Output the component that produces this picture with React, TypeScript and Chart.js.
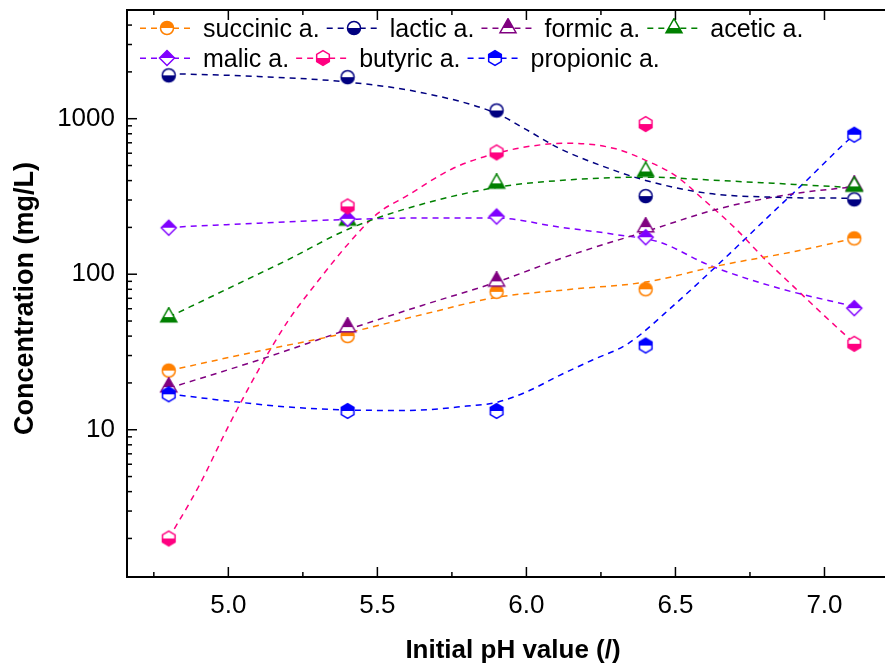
import React, { useEffect, useRef } from 'react';
import { Chart, registerables } from 'chart.js';

Chart.register(...registerables);

// ---- measured data ----
const pH = [4.8, 5.4, 5.9, 6.4, 7.1];
const acidNames = ['succinic a.', 'lactic a.', 'formic a.', 'acetic a.', 'malic a.', 'butyric a.', 'propionic a.'];
const succinic = [24, 40, 77, 80, 170];
const lactic = [1900, 1850, 1130, 318, 303];
const formic = [18.8, 45.7, 90, 201, 372];
const acetic = [53, 222, 384, 458, 367];
const malic = [199, 227, 235, 173, 60.5];
const butyric = [2.0, 273, 607, 924, 35.7];
const propionic = [16.9, 13.2, 13.2, 34.8, 789];

// ---- fitted curves ----
const fitSuccinicX = [4.8, 5.1, 5.4, 5.65, 5.9, 6.15, 6.4, 6.65, 6.9, 7.1];
const fitSuccinicY = [24, 32, 42, 55, 71, 80, 89, 114, 140, 170];
const fitLacticX = [4.8, 5.1, 5.4, 5.65, 5.9, 6.0, 6.11, 6.25, 6.4, 6.61, 6.85, 7.1];
const fitLacticY = [1950, 1870, 1720, 1470, 1080, 850, 645, 500, 401, 331, 312, 308];
const fitFormicX = [4.8, 5.1, 5.4, 5.65, 5.9, 6.15, 6.4, 6.65, 6.9, 7.1];
const fitFormicY = [18.5, 28, 44, 63, 89, 133, 188, 265, 330, 365];
const fitAceticX = [4.8, 5.0, 5.2, 5.4, 5.6, 5.9, 6.15, 6.4, 6.65, 6.9, 7.1];
const fitAceticY = [53, 81, 124, 194, 265, 362, 405, 421, 400, 378, 360];
const fitMalicX = [4.8, 5.1, 5.4, 5.65, 5.9, 6.11, 6.3, 6.45, 6.61, 6.85, 7.1];
const fitMalicY = [200, 213, 225, 230, 230, 201, 180, 160, 115, 81, 62];
const fitButyricX = [4.8, 4.9, 5.0, 5.1, 5.2, 5.3, 5.4, 5.5, 5.6, 5.75, 5.9, 6.05, 6.15, 6.3, 6.4, 6.5, 6.6, 6.7, 6.8, 6.9, 7.0, 7.1];
const fitButyricY = [2.0, 4.3, 10.5, 24, 50, 90, 155, 245, 320, 475, 600, 680, 695, 640, 540, 430, 295, 198, 125, 82, 54, 36];
const fitPropionicX = [4.8, 5.0, 5.2, 5.4, 5.6, 5.8, 5.9, 6.0, 6.11, 6.22, 6.34, 6.5, 6.67, 6.81, 6.94, 7.06, 7.1];
const fitPropionicY = [17, 15.3, 14.0, 13.4, 13.3, 14.2, 15, 17.5, 22.3, 28, 35.7, 64.6, 129, 233, 401, 673, 789];

// ---- axes ----
const xTickValues = [4.75, 5.0, 5.25, 5.5, 5.75, 6.0, 6.25, 6.5, 6.75, 7.0, 7.25];
const xLabelledTicks = [5.0, 5.5, 6.0, 6.5, 7.0];
const yMantissas = [1, 2, 3, 4, 5, 6, 7, 8, 9];
const yDecades = [1, 10, 100, 1000];
const yLabelledTicks = [10, 100, 1000];
const xMin = 4.66;
const xMax = 7.25;
const yMin = 1.13;
const yMax = 5000;

const colors = ['#FF8000', '#000080', '#800080', '#008000', '#8000FF', '#FF0080', '#0000FF'];
const shapes = ['circle', 'circle', 'triangle', 'triangle', 'diamond', 'hexagon', 'hexagon'];
const fillTop = [true, false, true, false, true, false, true];

const FONT = "'Liberation Sans', Arial, Helvetica, sans-serif";

function makeMarker(shape: string, color: string, top: boolean): HTMLCanvasElement {
  const c = document.createElement('canvas');
  c.width = 20;
  c.height = 20;
  const g = c.getContext('2d')!;
  const cx = 10, cy = 10;
  const path = () => {
    g.beginPath();
    if (shape === 'circle') {
      g.arc(cx, cy, 6.5, 0, Math.PI * 2);
    } else if (shape === 'triangle') {
      const h = 14, w = 8;
      g.moveTo(cx, cy - (2 * h) / 3);
      g.lineTo(cx + w, cy + h / 3);
      g.lineTo(cx - w, cy + h / 3);
      g.closePath();
    } else if (shape === 'diamond') {
      const r = 7.5;
      g.moveTo(cx, cy - r);
      g.lineTo(cx + r, cy);
      g.lineTo(cx, cy + r);
      g.lineTo(cx - r, cy);
      g.closePath();
    } else {
      const r = 7.3;
      for (let k = 0; k < 6; k++) {
        const ang = (-90 + 60 * k) * Math.PI / 180;
        const px = cx + r * Math.cos(ang);
        const py = cy + r * Math.sin(ang);
        if (k === 0) g.moveTo(px, py); else g.lineTo(px, py);
      }
      g.closePath();
    }
  };
  path();
  g.fillStyle = '#fff';
  g.fill();
  g.save();
  g.beginPath();
  g.rect(0, top ? 0 : cy, 20, 10);
  g.clip();
  path();
  g.fillStyle = color;
  g.fill();
  g.restore();
  path();
  g.strokeStyle = color;
  g.lineWidth = 1.5;
  g.stroke();
  return c;
}

const near = (a: number, b: number) => Math.abs(a - b) < 1e-6 * Math.max(1, Math.abs(b));

const zeroPad = (s: any) => {
  s.paddingLeft = 0;
  s.paddingRight = 0;
  s.paddingTop = 0;
  s.paddingBottom = 0;
};

export default function App() {
  const ref = useRef<HTMLCanvasElement | null>(null);

  useEffect(() => {
    if (!ref.current) return;
    const seriesVals = [succinic, lactic, formic, acetic, malic, butyric, propionic];
    const fitsX = [fitSuccinicX, fitLacticX, fitFormicX, fitAceticX, fitMalicX, fitButyricX, fitPropionicX];
    const fitsY = [fitSuccinicY, fitLacticY, fitFormicY, fitAceticY, fitMalicY, fitButyricY, fitPropionicY];
    const markers = acidNames.map((_, i) => makeMarker(shapes[i], colors[i], fillTop[i]));

    const yTickValues: number[] = [];
    yDecades.forEach((d) => yMantissas.forEach((m) => {
      const v = m * d;
      if (v >= yMin && v <= yMax) yTickValues.push(v);
    }));

    const datasets: any[] = [];
    acidNames.forEach((name, i) => {
      datasets.push({
        type: 'line',
        label: name,
        data: pH.map((x, j) => ({ x, y: seriesVals[i][j] })),
        showLine: false,
        pointStyle: markers[i],
        pointRadius: 7,
        order: 6 - i,
      });
    });
    acidNames.forEach((name, i) => {
      datasets.push({
        type: 'line',
        label: name + ' fit',
        data: fitsX[i].map((x, j) => ({ x, y: fitsY[i][j] })),
        borderColor: colors[i],
        borderWidth: 1.5,
        borderDash: [6, 5],
        pointRadius: 0,
        fill: false,
        cubicInterpolationMode: 'monotone',
        order: 20,
      });
    });

    const decorPlugin = {
      id: 'decor',
      afterDraw(chart: any) {
        const { ctx, chartArea: a, scales } = chart;
        const xs = scales.x, ys = scales.y;
        ctx.save();
        ctx.strokeStyle = '#000';
        ctx.lineWidth = 1.5;
        const line = (x1: number, y1: number, x2: number, y2: number) => {
          ctx.beginPath();
          ctx.moveTo(x1, y1);
          ctx.lineTo(x2, y2);
          ctx.stroke();
        };
        xs.ticks.forEach((t: any) => {
          const v = t.value;
          const major = xLabelledTicks.some((m) => near(v, m));
          const px = xs.getPixelForValue(v);
          const len = major ? 10 : 5;
          line(px, a.bottom, px, a.bottom - len);
          line(px, a.top, px, a.top + len);
        });
        ys.ticks.forEach((t: any) => {
          const v = t.value;
          const major = yDecades.some((d) => near(v, d));
          const py = ys.getPixelForValue(v);
          const len = major ? 10 : 5;
          line(a.left, py, a.left + len, py);
          line(a.right, py, a.right - len, py);
        });
        ctx.lineWidth = 2;
        ctx.strokeRect(a.left, a.top, a.right - a.left, a.bottom - a.top);

        // axis titles
        ctx.fillStyle = '#000';
        ctx.font = `bold 26px ${FONT}`;
        ctx.textAlign = 'center';
        ctx.textBaseline = 'alphabetic';
        ctx.fillText('Initial pH value (/)', (a.left + a.right) / 2, 658);
        ctx.save();
        ctx.translate(33, 298.5);
        ctx.rotate(-Math.PI / 2);
        ctx.font = `bold 27px ${FONT}`;
        ctx.fillText('Concentration (mg/L)', 0, 0);
        ctx.restore();

        // legend
        const rows = [[0, 1, 2, 3], [4, 5, 6]];
        ctx.font = `25px ${FONT}`;
        ctx.textAlign = 'left';
        rows.forEach((row, r) => {
          let sx = a.left + 13;
          const my = a.top + 18.3 + r * 30;
          row.forEach((i) => {
            ctx.save();
            ctx.strokeStyle = colors[i];
            ctx.lineWidth = 1.5;
            ctx.setLineDash([6, 5]);
            line(sx, my, sx + 52, my);
            ctx.restore();
            const mk = markers[i];
            ctx.drawImage(mk, Math.round(sx + 27 - mk.width / 2), Math.round(my - mk.height / 2));
            ctx.fillStyle = '#000';
            ctx.fillText(acidNames[i], sx + 63, my + 8.5);
            sx += 63 + ctx.measureText(acidNames[i]).width + 7;
          });
        });
        ctx.restore();
      },
    };

    const chart = new Chart(ref.current, {
      type: 'line',
      data: { datasets },
      options: {
        animation: false,
        responsive: false,
        events: [],
        layout: { autoPadding: false, padding: { top: 10, right: 2, left: 0, bottom: 0 } },
        plugins: { legend: { display: false }, tooltip: { enabled: false } },
        scales: {
          x: {
            type: 'linear',
            min: xMin,
            max: xMax,
            grid: { display: false, drawTicks: false },
            border: { display: false },
            afterBuildTicks: (s: any) => { s.ticks = xTickValues.map((value) => ({ value })); },
            ticks: {
              autoSkip: false,
              maxRotation: 0,
              padding: 13,
              color: '#000',
              font: { family: FONT, size: 26 },
              callback: (v: any) => (xLabelledTicks.some((m) => near(Number(v), m)) ? Number(v).toFixed(1) : ''),
            },
            afterFit: (s: any) => { s.height = 94; zeroPad(s); },
          },
          y: {
            type: 'logarithmic',
            min: yMin,
            max: yMax,
            grid: { display: false, drawTicks: false },
            border: { display: false },
            afterBuildTicks: (s: any) => { s.ticks = yTickValues.map((value) => ({ value })); },
            ticks: {
              autoSkip: false,
              padding: 12,
              color: '#000',
              font: { family: FONT, size: 26 },
              callback: (v: any) => (yLabelledTicks.some((m) => near(Number(v), m)) ? String(Math.round(Number(v))) : ''),
            },
            afterFit: (s: any) => { s.width = 127; zeroPad(s); },
          },
        },
      },
      plugins: [decorPlugin],
    } as any);
    return () => chart.destroy();
  }, []);

  return (
    <div style={{ position: 'fixed', left: 0, top: 0, width: 885, height: 671, overflow: 'hidden', background: '#fff' }}>
      <canvas ref={ref} width={901} height={671} style={{ display: 'block' }} />
    </div>
  );
}
